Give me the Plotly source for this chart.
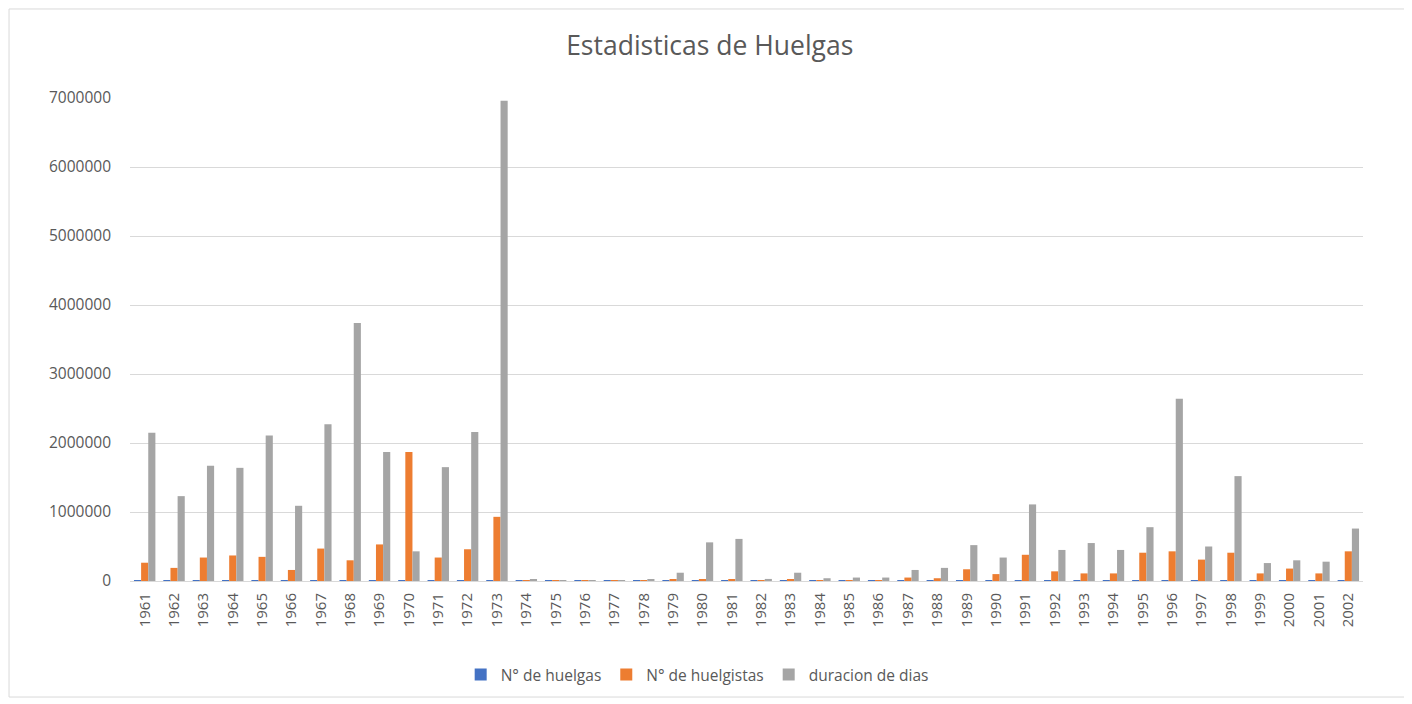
import plotly.graph_objects as go

years = [str(y) for y in range(1961, 2003)]

huelgas = [1200, 1100, 1300, 1400, 1500, 1400, 1700, 1600, 1800, 2200, 2700, 3300, 2000,
           100, 100, 100, 100, 100, 200, 300, 300, 200, 200, 200, 200, 200, 300, 300,
           400, 300, 400, 300, 300, 300, 300, 300, 300, 300, 300, 300, 300, 300]

huelguistas = [265000, 190000, 340000, 370000, 350000, 160000, 470000, 300000, 530000, 1870000,
               340000, 460000, 930000, 2000, 1000, 1000, 1000, 1000, 20000, 20000, 25000, 5000,
               15000, 10000, 10000, 10000, 50000, 40000, 170000, 100000, 380000, 140000,
               110000, 110000, 410000, 430000, 310000, 410000, 110000, 180000, 110000, 430000]

duracion = [2150000, 1230000, 1670000, 1640000, 2110000, 1090000, 2270000, 3740000, 1870000, 430000,
            1650000, 2160000, 6960000, 15000, 10000, 10000, 12000, 15000, 120000, 560000,
            610000, 30000, 120000, 40000, 50000, 50000, 160000, 190000, 520000, 340000,
            1110000, 450000, 550000, 450000, 780000, 2640000, 500000, 1520000, 260000,
            300000, 280000, 760000]

series_names = ["N° de huelgas", "N° de huelgistas", "duracion de dias"]
colors = ["#4472C4", "#ED7D31", "#A5A5A5"]

fig = go.Figure()
for name, vals, col in zip(series_names, [huelgas, huelguistas, duracion], colors):
    fig.add_trace(go.Bar(x=years, y=vals, name=name, marker=dict(color=col, line=dict(width=0))))

fig.update_layout(
    width=1412, height=704,
    paper_bgcolor="white", plot_bgcolor="white",
    margin=dict(l=122, r=57, t=90, b=131, autoexpand=False),
    barmode="group", bargap=0.27, bargroupgap=0,
    font=dict(family="Open Sans, Liberation Sans, sans-serif", color="#595959", size=14),
    title=dict(text="Estadisticas de Huelgas", x=0.497, xref="container", xanchor="center",
               y=0.947, yanchor="middle", yref="container",
               font=dict(size=26.5, color="#595959")),
    legend=dict(orientation="h", x=0.46, xanchor="center", y=-0.1946, yanchor="middle",
                font=dict(size=15.5, color="#595959"), traceorder="normal"),
    showlegend=True,
)
fig.update_yaxes(range=[0, 7000000], dtick=1000000, tickformat="d", showgrid=True,
                 gridcolor="#D9D9D9", gridwidth=1, zeroline=False, showline=False,
                 tickfont=dict(size=15.5, color="#595959"), ticks="", ticklabelstandoff=18)
fig.update_xaxes(tickangle=-90, showline=True, linecolor="#D9D9D9", linewidth=1,
                 tickfont=dict(size=15, color="#595959"), ticks="", ticklabelstandoff=5)
fig.add_shape(type="rect", xref="paper", yref="paper",
              x0=-0.0981, x1=1.0349, y0=-0.2402, y1=1.1843,
              line=dict(color="#D9D9D9", width=1), fillcolor="rgba(0,0,0,0)")

fig.write_html("out.html")
